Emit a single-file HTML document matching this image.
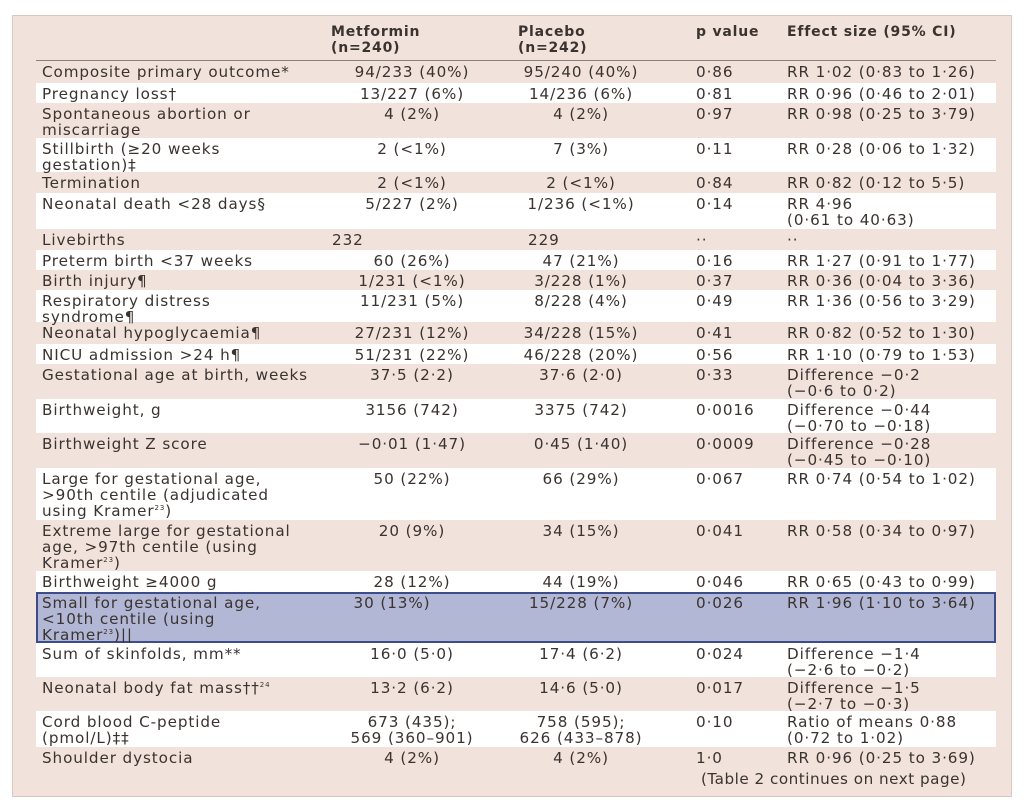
<!DOCTYPE html>
<html><head><style>
body{margin:0;width:1024px;height:805px;background:#fff;font-family:"DejaVu Sans","Liberation Sans",sans-serif;color:#3a3330;overflow:hidden;position:relative}
#box{position:absolute;left:12px;top:15px;width:1000px;height:782px;background:#f1e2dc;border:1px solid #d8c8c2;box-sizing:border-box}
.r{position:absolute;left:36px;width:960px}
.w{background:#fff}
.c{position:absolute;font-size:15.2px;letter-spacing:0.9px;line-height:16px;top:3px;white-space:nowrap}
sup{font-size:7px;line-height:0}
.h{font-weight:bold;font-size:14px;letter-spacing:0.8px}
.a{left:6px}.m{left:296px;width:160px;text-align:center}.p{left:465px;width:160px;text-align:center}
.v{left:660px}.e{left:751px}
</style></head><body>
<div id="box"></div>
<div class="r" style="top:22px;height:38px;border-bottom:1px solid #8a807c">
<div class="c h" style="left:295px;top:2px">Metformin<br>(n=240)</div>
<div class="c h" style="left:482px;top:2px">Placebo<br>(n=242)</div>
<div class="c h v" style="top:2px">p value</div>
<div class="c h e" style="top:2px">Effect size (95% CI)</div>
</div>

<div class="r" style="top:61px;height:22px"><div class="c a">Composite primary outcome*</div><div class="c m">94/233 (40%)</div><div class="c p">95/240 (40%)</div><div class="c v">0·86</div><div class="c e">RR 1·02 (0·83 to 1·26)</div></div>
<div class="r w" style="top:83px;height:20px"><div class="c a">Pregnancy loss†</div><div class="c m">13/227 (6%)</div><div class="c p">14/236 (6%)</div><div class="c v">0·81</div><div class="c e">RR 0·96 (0·46 to 2·01)</div></div>
<div class="r" style="top:103px;height:35px"><div class="c a">Spontaneous abortion or<br>miscarriage</div><div class="c m">4 (2%)</div><div class="c p">4 (2%)</div><div class="c v">0·97</div><div class="c e">RR 0·98 (0·25 to 3·79)</div></div>
<div class="r w" style="top:138px;height:34px"><div class="c a">Stillbirth (≥20 weeks<br>gestation)‡</div><div class="c m">2 (&lt;1%)</div><div class="c p">7 (3%)</div><div class="c v">0·11</div><div class="c e">RR 0·28 (0·06 to 1·32)</div></div>
<div class="r" style="top:172px;height:21px"><div class="c a">Termination</div><div class="c m">2 (&lt;1%)</div><div class="c p">2 (&lt;1%)</div><div class="c v">0·84</div><div class="c e">RR 0·82 (0·12 to 5·5)</div></div>
<div class="r w" style="top:193px;height:36px"><div class="c a">Neonatal death &lt;28 days§</div><div class="c m">5/227 (2%)</div><div class="c p">1/236 (&lt;1%)</div><div class="c v">0·14</div><div class="c e">RR 4·96<br>(0·61 to 40·63)</div></div>
<div class="r" style="top:229px;height:21px"><div class="c a">Livebirths</div><div class="c" style="left:296px">232</div><div class="c" style="left:492px">229</div><div class="c v">··</div><div class="c e">··</div></div>
<div class="r w" style="top:250px;height:20px"><div class="c a">Preterm birth &lt;37 weeks</div><div class="c m">60 (26%)</div><div class="c p">47 (21%)</div><div class="c v">0·16</div><div class="c e">RR 1·27 (0·91 to 1·77)</div></div>
<div class="r" style="top:270px;height:20px"><div class="c a">Birth injury¶</div><div class="c m">1/231 (&lt;1%)</div><div class="c p">3/228 (1%)</div><div class="c v">0·37</div><div class="c e">RR 0·36 (0·04 to 3·36)</div></div>
<div class="r w" style="top:290px;height:32px"><div class="c a">Respiratory distress<br>syndrome¶</div><div class="c m">11/231 (5%)</div><div class="c p">8/228 (4%)</div><div class="c v">0·49</div><div class="c e">RR 1·36 (0·56 to 3·29)</div></div>
<div class="r" style="top:322px;height:22px"><div class="c a">Neonatal hypoglycaemia¶</div><div class="c m">27/231 (12%)</div><div class="c p">34/228 (15%)</div><div class="c v">0·41</div><div class="c e">RR 0·82 (0·52 to 1·30)</div></div>
<div class="r w" style="top:344px;height:20px"><div class="c a">NICU admission &gt;24 h¶</div><div class="c m">51/231 (22%)</div><div class="c p">46/228 (20%)</div><div class="c v">0·56</div><div class="c e">RR 1·10 (0·79 to 1·53)</div></div>
<div class="r" style="top:364px;height:35px"><div class="c a">Gestational age at birth, weeks</div><div class="c m">37·5 (2·2)</div><div class="c p">37·6 (2·0)</div><div class="c v">0·33</div><div class="c e">Difference −0·2<br>(−0·6 to 0·2)</div></div>
<div class="r w" style="top:399px;height:34px"><div class="c a">Birthweight, g</div><div class="c m">3156 (742)</div><div class="c p">3375 (742)</div><div class="c v">0·0016</div><div class="c e">Difference −0·44<br>(−0·70 to −0·18)</div></div>
<div class="r" style="top:433px;height:35px"><div class="c a">Birthweight Z score</div><div class="c m">−0·01 (1·47)</div><div class="c p">0·45 (1·40)</div><div class="c v">0·0009</div><div class="c e">Difference −0·28<br>(−0·45 to −0·10)</div></div>
<div class="r w" style="top:468px;height:52px"><div class="c a">Large for gestational age,<br>&gt;90th centile (adjudicated<br>using Kramer<sup>23</sup>)</div><div class="c m">50 (22%)</div><div class="c p">66 (29%)</div><div class="c v">0·067</div><div class="c e">RR 0·74 (0·54 to 1·02)</div></div>
<div class="r" style="top:520px;height:51px"><div class="c a">Extreme large for gestational<br>age, &gt;97th centile (using<br>Kramer<sup>23</sup>)</div><div class="c m">20 (9%)</div><div class="c p">34 (15%)</div><div class="c v">0·041</div><div class="c e">RR 0·58 (0·34 to 0·97)</div></div>
<div class="r w" style="top:571px;height:21px"><div class="c a">Birthweight ≥4000 g</div><div class="c m">28 (12%)</div><div class="c p">44 (19%)</div><div class="c v">0·046</div><div class="c e">RR 0·65 (0·43 to 0·99)</div></div>
<div class="r" style="top:592px;height:51px;background:#b2b7d5;border:2px solid #3d4d8c;box-sizing:border-box;left:36px"><div class="c a" style="left:4px;top:1px">Small for gestational age,<br>&lt;10th centile (using<br>Kramer<sup>23</sup>)||</div><div class="c m" style="left:294px;width:120px;top:1px">30 (13%)</div><div class="c p" style="left:463px;top:1px">15/228 (7%)</div><div class="c v" style="left:658px;top:1px">0·026</div><div class="c e" style="left:749px;top:1px">RR 1·96 (1·10 to 3·64)</div></div>
<div class="r w" style="top:643px;height:34px"><div class="c a">Sum of skinfolds, mm**</div><div class="c m">16·0 (5·0)</div><div class="c p">17·4 (6·2)</div><div class="c v">0·024</div><div class="c e">Difference −1·4<br>(−2·6 to −0·2)</div></div>
<div class="r" style="top:677px;height:34px"><div class="c a">Neonatal body fat mass††<sup>24</sup></div><div class="c m">13·2 (6·2)</div><div class="c p">14·6 (5·0)</div><div class="c v">0·017</div><div class="c e">Difference −1·5<br>(−2·7 to −0·3)</div></div>
<div class="r w" style="top:711px;height:36px"><div class="c a">Cord blood C-peptide<br>(pmol/L)‡‡</div><div class="c m">673 (435);<br>569 (360–901)</div><div class="c p">758 (595);<br>626 (433–878)</div><div class="c v">0·10</div><div class="c e">Ratio of means 0·88<br>(0·72 to 1·02)</div></div>
<div class="r" style="top:747px;height:21px"><div class="c a">Shoulder dystocia</div><div class="c m">4 (2%)</div><div class="c p">4 (2%)</div><div class="c v">1·0</div><div class="c e">RR 0·96 (0·25 to 3·69)</div></div>
<div class="r" style="top:768px;height:22px"><div class="c" style="left:665px;letter-spacing:0.5px">(Table 2 continues on next page)</div></div>
</body></html>
